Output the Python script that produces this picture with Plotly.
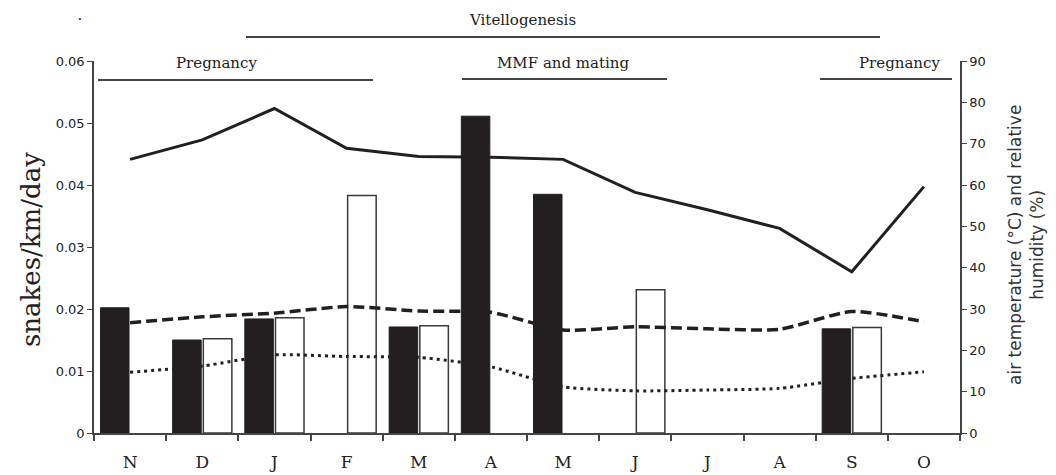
import plotly.graph_objects as go

months = ["N", "D", "J", "F", "M", "A", "M", "J", "J", "A", "S", "O"]
black_bars = [0.0202, 0.0150, 0.0184, None, 0.0171, 0.0511, 0.0385, None, None, None, 0.0168, None]
white_bars = [None, 0.0152, 0.0186, 0.0383, 0.0173, None, None, 0.0231, None, None, 0.0170, None]
humidity = [66.2, 70.9, 78.5, 68.9, 66.9, 66.7, 66.2, 58.2, 54.0, 49.5, 39.0, 59.6]
temp_dashed = [26.7, 28.1, 29.0, 30.6, 29.5, 29.2, 24.9, 25.7, 25.2, 25.1, 29.4, 26.9]
temp_dotted = [14.7, 16.2, 18.9, 18.5, 18.3, 16.0, 11.2, 10.2, 10.4, 10.8, 13.2, 14.8]

x = list(range(len(months)))
INK = "#231f20"
SERIF = "DejaVu Serif"
SANS = "DejaVu Sans"

fig = go.Figure()
fig.add_trace(go.Bar(x=x, y=black_bars, marker=dict(color=INK, line=dict(color=INK, width=1)),
                     showlegend=False, yaxis="y"))
fig.add_trace(go.Bar(x=x, y=white_bars, marker=dict(color="rgba(255,255,255,0)", line=dict(color="#3a3a3a", width=1.5)),
                     showlegend=False, yaxis="y"))
fig.add_trace(go.Scatter(x=x, y=humidity, mode="lines", line=dict(color=INK, width=3),
                         showlegend=False, yaxis="y2"))
fig.add_trace(go.Scatter(x=x, y=temp_dashed, mode="lines",
                         line=dict(color=INK, width=3.5, dash="11px,5px", shape="spline", smoothing=0.6),
                         showlegend=False, yaxis="y2"))
fig.add_trace(go.Scatter(x=x, y=temp_dotted, mode="lines",
                         line=dict(color=INK, width=3, dash="3px,4px", shape="spline", smoothing=0.6),
                         showlegend=False, yaxis="y2"))

# page body has an 8px margin; design coordinates below are screenshot pixels
OFF = 8
W, H = 1040, 467
L, R, T, B = 94 - OFF, W - (960 - OFF), 61 - OFF, H - (433 - OFF)
pw, ph = W - L - R, H - T - B


def px(xs):
    return (xs - OFF - L) / pw


def py(ys):
    return (H - B - (ys - OFF)) / ph


shapes = []
annotations = []
line_col = "#444444"
for (x0, x1, yl, text, tx, ty) in [
    (246, 880, 37, "Vitellogenesis", 522, 20),
    (98, 373, 80, "Pregnancy", 216, 63),
    (462, 667, 79, "MMF and mating", 563, 63),
    (820, 952, 79, "Pregnancy", 899, 63),
]:
    shapes.append(dict(type="line", xref="paper", yref="paper", x0=px(x0), x1=px(x1), y0=py(yl), y1=py(yl),
                       line=dict(color=line_col, width=1.8)))
    annotations.append(dict(text=text, xref="paper", yref="paper", x=px(tx), y=py(ty), showarrow=False,
                            xanchor="center", yanchor="middle", font=dict(family=SERIF, size=15, color="#222")))

annotations.append(dict(text="<b>.</b>", xref="paper", yref="paper", x=px(80), y=py(OFF), showarrow=False,
                        xanchor="center", yanchor="top", font=dict(family=SERIF, size=11, color="#222")))
annotations.append(dict(text="snakes/km/day", xref="paper", yref="paper", x=px(31), y=py(250), showarrow=False,
                        textangle=-90, xanchor="center", yanchor="middle",
                        font=dict(family=SERIF, size=26, color="#222")))
annotations.append(dict(text="air temperature (°C) and relative<br>humidity (%)", xref="paper", yref="paper",
                        x=px(1026), y=py(245), showarrow=False, textangle=-90, xanchor="center", yanchor="middle",
                        font=dict(family=SANS, size=17, color="#333")))

fig.update_layout(
    width=W, height=H, margin=dict(l=L, r=R, t=T, b=B, autoexpand=False),
    plot_bgcolor="white", paper_bgcolor="white",
    barmode="group", bargap=0.15, bargroupgap=0.07,
    shapes=shapes, annotations=annotations,
    xaxis=dict(range=[-0.5, 11.5], tickmode="array", tickvals=x, ticktext=months, ticks="",
               showline=True, linecolor="#444", linewidth=1.5, showgrid=False, zeroline=False,
               automargin=False,
               tickfont=dict(family=SERIF, size=17, color="#222"), ticklabelstandoff=13,
               minor=dict(tickmode="array", tickvals=[i - 0.5 for i in range(13)], ticks="outside",
                          ticklen=6, tickcolor="#444", tickwidth=1.5)),
    yaxis=dict(range=[0, 0.06], dtick=0.01, ticks="outside", ticklen=5, tickcolor="#444", tickwidth=1.2,
               showline=True, linecolor="#444", linewidth=1.5, showgrid=False, zeroline=False,
               automargin=False,
               tickfont=dict(family=SANS, size=13, color="#222")),
    yaxis2=dict(range=[0, 90], dtick=10, ticks="outside", ticklen=5, tickcolor="#444", tickwidth=1.2,
                showline=True, linecolor="#444", linewidth=1.5, showgrid=False, zeroline=False,
                overlaying="y", side="right", anchor="x", automargin=False,
                tickfont=dict(family=SANS, size=13, color="#222")),
)

fig.write_html("out.html")
